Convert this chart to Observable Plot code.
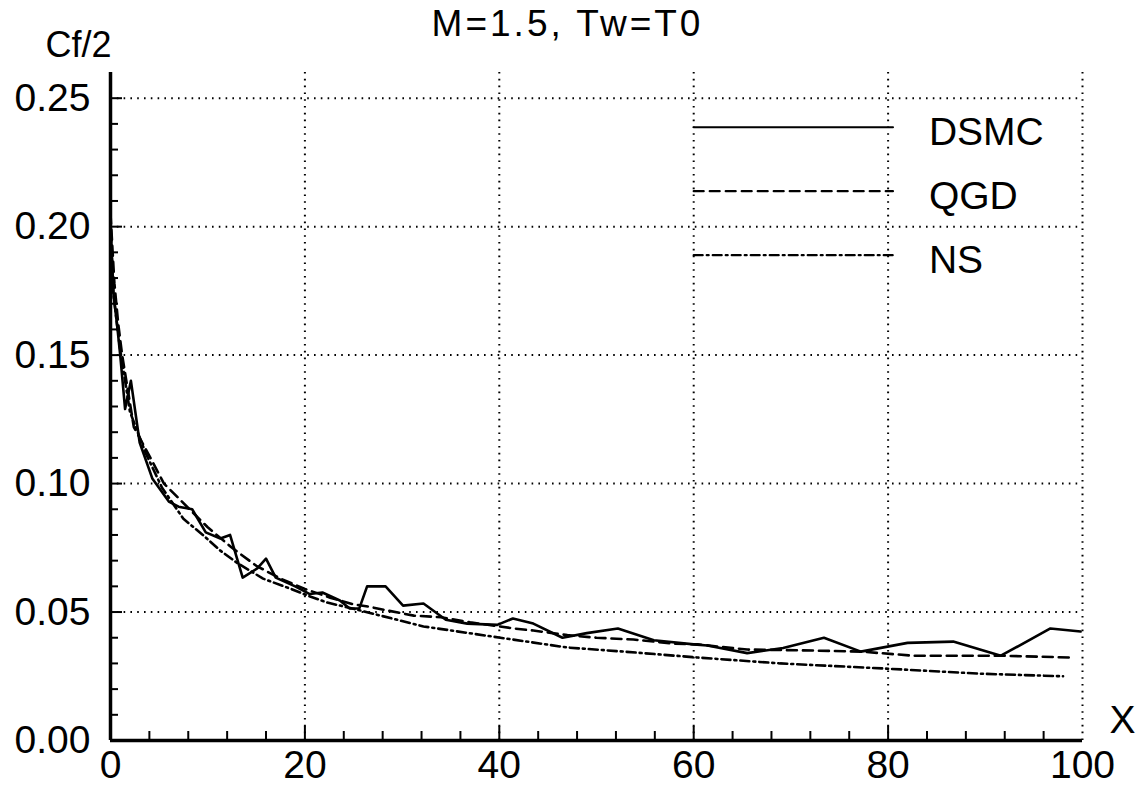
<!DOCTYPE html>
<html>
<head>
<meta charset="utf-8">
<script src="https://cdn.jsdelivr.net/npm/d3@7"></script>
<script src="https://cdn.jsdelivr.net/npm/@observablehq/plot@0.6"></script>
<style>
  html, body { margin: 0; padding: 0; background: #fff; }
  #chart svg { display: block; }
</style>
</head>
<body>
<div id="chart"></div>
<script>
// ---- Data ----
const titleText = "M=1.5, Tw=T0";
const yLabelText = "Cf/2";
const xLabelText = "X";
const seriesNames = ["DSMC", "QGD", "NS"];

const xDSMC = [0, 0.3, 0.7, 1.0, 1.5, 2.1, 3.0, 4.3, 6.0, 7.0, 8.4, 9.8, 11.3, 12.3, 13.6, 15.1, 16.0, 17.0, 19.0, 20.5, 21.8, 23.6, 24.6, 25.6, 26.4, 28.3, 30.1, 32.2, 34.5, 36.7, 39.8, 41.4, 43.5, 46.5, 49.0, 52.2, 55.9, 60.0, 61.4, 65.5, 69.2, 73.4, 77.2, 82.0, 86.7, 91.6, 96.7, 99.8];
const yDSMC = [0.202, 0.174, 0.161, 0.150, 0.129, 0.140, 0.116, 0.102, 0.093, 0.091, 0.090, 0.081, 0.0786, 0.080, 0.0634, 0.067, 0.0708, 0.0634, 0.060, 0.057, 0.0576, 0.0545, 0.0514, 0.0514, 0.060, 0.060, 0.0525, 0.0533, 0.047, 0.0455, 0.045, 0.0475, 0.0455, 0.040, 0.0418, 0.0436, 0.039, 0.0374, 0.037, 0.034, 0.036, 0.040, 0.0346, 0.038, 0.0385, 0.033, 0.0436, 0.0424];

const xQGD = [0, 0.4, 0.8, 1.2, 2.4, 3.9, 5.5, 8.0, 10.0, 12.5, 15.0, 17.5, 20.0, 22.6, 25.0, 26.7, 28.5, 31.2, 34.0, 37.0, 41.5, 43.5, 47.0, 50.0, 53.8, 58.0, 60.4, 65.5, 72.3, 77.2, 82.6, 91.6, 98.8];
const yQGD = [0.205, 0.178, 0.162, 0.150, 0.122, 0.1115, 0.100, 0.0905, 0.083, 0.075, 0.068, 0.063, 0.059, 0.0556, 0.053, 0.052, 0.0506, 0.0486, 0.048, 0.046, 0.0436, 0.0428, 0.041, 0.040, 0.0393, 0.0377, 0.0374, 0.0354, 0.035, 0.0346, 0.033, 0.033, 0.0323];

const xNS = [0, 0.3, 0.7, 1.0, 2.0, 3.6, 5.3, 7.5, 9.5, 11.3, 13.0, 15.7, 18.5, 20.3, 22.3, 25.7, 32.2, 40.1, 47.0, 52.8, 60.4, 68.9, 79.7, 89.5, 98.0];
const yNS = [0.200, 0.174, 0.161, 0.152, 0.128, 0.112, 0.0984, 0.0863, 0.080, 0.0739, 0.0692, 0.063, 0.0591, 0.0564, 0.0537, 0.0506, 0.0444, 0.040, 0.0362, 0.0346, 0.0323, 0.030, 0.028, 0.026, 0.025];

const xMajorTicks = [0, 20, 40, 60, 80, 100];
const xGridTicks = [20, 40, 60, 80, 100];
const yMajorTicks = [0, 0.05, 0.10, 0.15, 0.20, 0.25];
const yGridTicks = [0.05, 0.10, 0.15, 0.20, 0.25];
const xMinorTicks = d3.range(4, 100, 4).filter(v => v % 20 !== 0);
const yMinorTicks = d3.range(1, 26).map(i => i / 100).filter(v => Math.round(v * 100) % 5 !== 0);

// ---- Build tables ----
const toRows = (xs, ys, name) => xs.map((x, i) => ({x, y: ys[i], series: name}));
const dsmc = toRows(xDSMC, yDSMC, "DSMC");
const qgd = toRows(xQGD, yQGD, "QGD");
const ns = toRows(xNS, yNS, "NS");

// ---- Layout ----
const W = 1142, H = 785;
const mL = 110, mR = 60, mT = 72, mB = 45;
const plotH = H - mT - mB;
const plotW = W - mL - mR;
const FONT = "'Liberation Sans', Arial, Helvetica, sans-serif";
const dashStyles = {DSMC: null, QGD: "10,6", NS: "9,4,2,4"};

// legend sample geometry (in data units)
const legX1 = 60, legX2 = 80.5, legTextX = 84.2;
const legTop = 0.2387, legStep = 0.0249;
const legendLines = seriesNames.flatMap((name, i) => [
  {x: legX1, y: legTop - i * legStep, series: name},
  {x: legX2, y: legTop - i * legStep, series: name}
]);
const legendTexts = seriesNames.map((name, i) => ({x: legTextX, y: legTop - i * legStep - 0.0022, label: name}));

const gridStyle = {stroke: "#000", strokeOpacity: 1, strokeWidth: 2, strokeDasharray: "1.6,5.2"};

const chart = Plot.plot({
  width: W,
  height: H,
  marginLeft: mL,
  marginRight: mR,
  marginTop: mT,
  marginBottom: mB,
  style: {fontFamily: FONT, background: "#fff", color: "#000"},
  x: {domain: [0, 100], axis: null},
  y: {domain: [0, 0.26], axis: null},
  marks: [
    // dotted grid
    Plot.ruleX(xGridTicks, {...gridStyle}),
    Plot.ruleY(yGridTicks, {x1: 0, x2: 100, ...gridStyle}),
    // inward minor & major ticks
    Plot.tickX(xMinorTicks, {x: d => d, insetTop: plotH - 9, stroke: "#000", strokeWidth: 2}),
    Plot.tickX(xMajorTicks.slice(1, -1), {x: d => d, insetTop: plotH - 14, stroke: "#000", strokeWidth: 2}),
    Plot.tickY(yMinorTicks, {y: d => d, insetRight: plotW - 8, stroke: "#000", strokeWidth: 2}),
    Plot.tickY(yMajorTicks.slice(1), {y: d => d, insetRight: plotW - 12, stroke: "#000", strokeWidth: 2}),
    // axis lines
    Plot.ruleX([0], {stroke: "#000", strokeWidth: 3.5}),
    Plot.ruleY([0], {x1: 0, x2: 100, stroke: "#000", strokeWidth: 3.5}),
    // tick labels
    Plot.axisX({ticks: xMajorTicks, tickSize: 0, tickPadding: 10, fontSize: 39, tickFormat: d => String(d), label: null}),
    Plot.axisY({ticks: yMajorTicks, tickSize: 0, tickPadding: 20, fontSize: 39, tickFormat: d3.format(".2f"), label: null}),
    // data curves
    Plot.line(dsmc, {x: "x", y: "y", stroke: "#000", strokeWidth: 2.6}),
    Plot.line(qgd, {x: "x", y: "y", stroke: "#000", strokeWidth: 2.6, strokeDasharray: dashStyles.QGD}),
    Plot.line(ns, {x: "x", y: "y", stroke: "#000", strokeWidth: 2.6, strokeDasharray: dashStyles.NS}),
    // legend
    ...seriesNames.map(name => Plot.line(legendLines.filter(d => d.series === name), {
      x: "x", y: "y", stroke: "#000", strokeWidth: 2.2, strokeDasharray: dashStyles[name]
    })),
    Plot.text(legendTexts, {x: "x", y: "y", text: "label", textAnchor: "start", lineAnchor: "middle", fontSize: 39, fill: "#000"}),
    // title and axis labels
    Plot.text([titleText], {frameAnchor: "top", dx: -29, dy: -48, fontSize: 37, textAnchor: "middle", lineAnchor: "middle", fill: "#000"}),
    Plot.text([yLabelText], {frameAnchor: "top-left", dx: -32, dy: -27, fontSize: 36, textAnchor: "middle", lineAnchor: "middle", fill: "#000"}),
    Plot.text([xLabelText], {frameAnchor: "bottom-right", dx: 40, dy: -20, fontSize: 39, textAnchor: "middle", lineAnchor: "middle", fill: "#000"})
  ]
});

// widen the title's letter spacing as in the reference
d3.select(chart).selectAll("text").filter(function() { return this.textContent === titleText; })
  .style("letter-spacing", "3px");

document.getElementById("chart").appendChild(chart);
</script>
</body>
</html>
